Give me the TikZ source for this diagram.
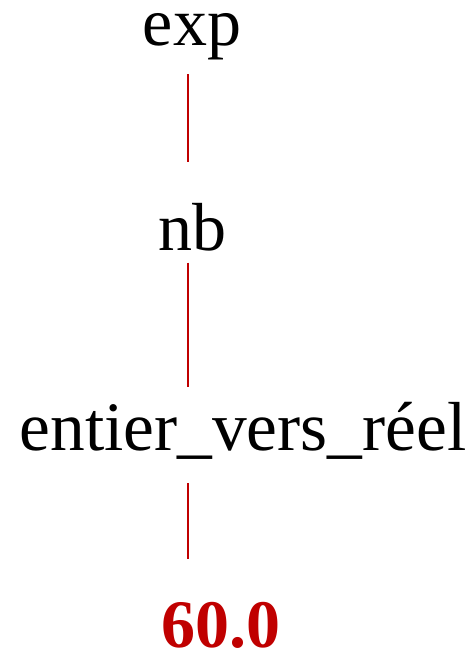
\documentclass[tikz,border=0pt]{standalone}
\usepackage{fontspec}
\setmainfont{Liberation Serif}
\definecolor{edgered}{RGB}{192,0,0}
\begin{document}
\begin{tikzpicture}[x=1pt,y=1pt,
  lbl/.style={inner sep=0pt,outer sep=0pt,anchor=base,font=\fontsize{68}{80}\selectfont},
  valbl/.style={lbl,font=\fontsize{68}{80}\selectfont\bfseries,text=edgered},
  edge/.style={draw=edgered,line width=1.6pt}]
\useasboundingbox (0,0) rectangle (469,-650);
\node[lbl] (exp) at (192,-46) {exp};
\node[lbl] (nb) at (192,-250) {nb};
\node[lbl,font=\fontsize{69.4}{80}\selectfont] (evr) at (243,-450) {entier\_vers\_réel};
\node[valbl] (val) at (221,-647) {60.0};
\draw[edge,shorten <=14pt,shorten >=40.6pt] ([xshift=-4pt]exp.south) -- ([xshift=-4pt]nb.north);
\draw[edge,shorten <=12pt,shorten >=14.5pt] ([xshift=-4pt]nb.south) -- ([xshift=-55pt]evr.north);
\draw[edge,shorten <=24.5pt,shorten >=43pt] ([xshift=-55pt]evr.south) -- ([xshift=-33pt]val.north);
\end{tikzpicture}
\end{document}
